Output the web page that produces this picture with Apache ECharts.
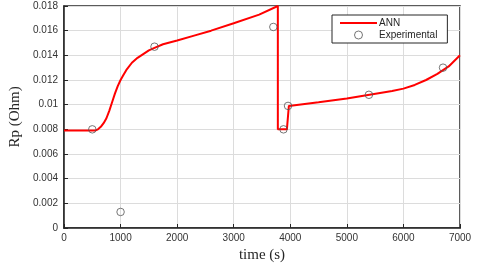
<!DOCTYPE html>
<html><head><meta charset="utf-8">
<script src="https://cdn.jsdelivr.net/npm/echarts@6/dist/echarts.min.js"></script>
<style>html,body{margin:0;padding:0;background:#fff}#c{width:480px;height:265px}</style>
</head><body><div id="c"></div>
<script>
var annTime = [0, 200, 400, 500, 550, 600, 650, 700, 750, 800, 850, 900, 950, 1000, 1050, 1100, 1200, 1300, 1400, 1500, 1600, 1750, 2000, 2300, 2600, 3000, 3450, 3780, 3780, 3940, 3975, 4500, 5000, 5400, 5800, 6000, 6200, 6400, 6600, 6800, 7000];
var annRp   = [0.0079, 0.0079, 0.0079, 0.0079, 0.0079, 0.0080, 0.0082, 0.0085, 0.0089, 0.0095, 0.0102, 0.0109, 0.0115, 0.0120, 0.0124, 0.0128, 0.0134, 0.0138, 0.0141, 0.0144, 0.0146, 0.0149, 0.0152, 0.0156, 0.0160, 0.0166, 0.0173, 0.0180, 0.0080, 0.0080, 0.0099, 0.0102, 0.0105, 0.0108, 0.0111, 0.0113, 0.0116, 0.0120, 0.0125, 0.0131, 0.0140];
var expTime = [500, 1000, 1600, 3700, 3880, 3960, 5390, 6700];
var expRp   = [0.0080, 0.0013, 0.0147, 0.0163, 0.0080, 0.0099, 0.0108, 0.0130];
var yTickValues = [0, 0.002, 0.004, 0.006, 0.008, 0.01, 0.012, 0.014, 0.016, 0.018];
var yTickLabels = ['0', '0.002', '0.004', '0.006', '0.008', '0.01', '0.012', '0.014', '0.016', '0.018'];
var xTickLabels = ['0', '1000', '2000', '3000', '4000', '5000', '6000', '7000'];

var chart = echarts.init(document.getElementById('c'));
var axisCol = '#262626';
var lblFont = 'Liberation Sans, Arial, sans-serif';
function yLabel(v){
  for (var i = 0; i < yTickValues.length; i++) if (Math.abs(yTickValues[i] - v) < 1e-9) return yTickLabels[i];
  return '';
}
chart.setOption({
  animation: false,
  grid: {left: 64, right: 20, top: 6, bottom: 37, containLabel: false, outerBoundsMode: 'none',
         show: true, borderColor: axisCol, borderWidth: 1.5, backgroundColor: '#fff'},
  legend: {
    left: 332, top: 15, orient: 'vertical',
    padding: [3, 10, 3, 7], itemGap: 2,
    borderColor: axisCol, borderWidth: 1, backgroundColor: '#fff',
    itemWidth: 37, itemHeight: 8,
    textStyle: {fontFamily: lblFont, fontSize: 10, color: '#262626', padding: [0, 0, 0, -3]},
    data: [{name: 'ANN', itemStyle: {opacity: 0}},
           {name: 'Experimental', icon: 'circle', itemStyle: {color: '#fff', borderColor: '#555', borderWidth: 1}}]
  },
  xAxis: {
    type: 'value', min: 0, max: 7000, interval: 1000,
    name: 'time (s)', nameLocation: 'middle', nameGap: 20,
    nameTextStyle: {fontFamily: 'Liberation Serif, Times New Roman, serif', fontSize: 15, color: '#262626'},
    axisLine: {show: true, lineStyle: {color: axisCol, width: 1.5}},
    axisTick: {inside: true, length: 4, lineStyle: {color: axisCol}},
    axisLabel: {fontFamily: lblFont, fontSize: 10, color: '#333', margin: 5,
      formatter: function(v){ return xTickLabels[Math.round(v / 1000)]; }},
    splitLine: {show: true, lineStyle: {color: '#dcdcdc', width: 1}}
  },
  yAxis: {
    type: 'value', min: 0, max: 0.018, interval: 0.002,
    name: 'Rp (Ohm)', nameLocation: 'middle', nameGap: 40,
    nameTextStyle: {fontFamily: 'Liberation Serif, Times New Roman, serif', fontSize: 15, color: '#262626'},
    axisLine: {show: true, lineStyle: {color: axisCol, width: 1.5}},
    axisTick: {inside: true, length: 4, lineStyle: {color: axisCol}},
    axisLabel: {fontFamily: lblFont, fontSize: 10, color: '#333', margin: 6, formatter: yLabel},
    splitLine: {show: true, lineStyle: {color: '#dcdcdc', width: 1}}
  },
  series: [
    {name: 'ANN', type: 'line', symbol: 'none', clip: true,
     lineStyle: {color: '#ff0000', width: 2}, itemStyle: {color: '#ff0000'},
     data: annTime.map(function(t, i){ return [t, annRp[i]]; }), z: 3},
    {name: 'Experimental', type: 'scatter', symbol: 'circle', symbolSize: 7.5,
     itemStyle: {color: 'rgba(0,0,0,0)', borderColor: '#555', borderWidth: 1},
     data: expTime.map(function(t, i){ return [t, expRp[i]]; }), z: 4}
  ]
});
</script></body></html>
